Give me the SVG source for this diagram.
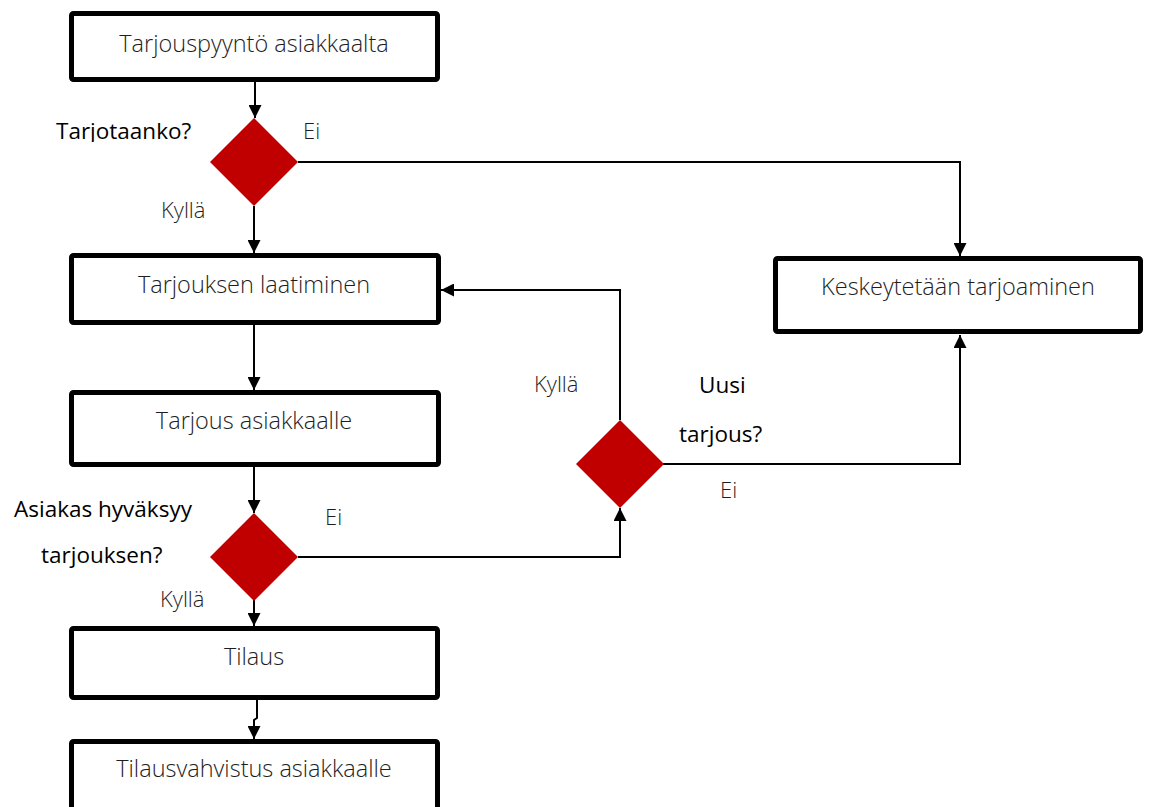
<svg xmlns="http://www.w3.org/2000/svg" width="1151" height="807" viewBox="0 0 1151 807">
  <defs>
    <style>
      .box { fill: #ffffff; stroke: #000000; stroke-width: 5; }
      .dia { fill: #c00000; stroke: none; }
      .conn { fill: none; stroke: #000000; stroke-width: 2; }
      .t { font-family: "Open Sans", "Liberation Sans", sans-serif; font-weight: 300; font-size: 23.5px; fill: #1e1e1e; text-anchor: middle; }
      .lbl { font-family: "Open Sans", "Liberation Sans", sans-serif; font-weight: 300; font-size: 22px; fill: #1e1e1e; }
      .q { font-family: "Open Sans", "Liberation Sans", sans-serif; font-weight: 400; font-size: 22.5px; fill: #000000; }
    </style>
    <marker id="arrow" viewBox="0 0 12 12" refX="12" refY="6" markerWidth="13" markerHeight="13" markerUnits="userSpaceOnUse" orient="auto">
      <path d="M0,0 L12,6 L0,12 Z" fill="#000000"/>
    </marker>
    <clipPath id="clipQ1">
      <rect x="0" y="112" width="240" height="30"/>
    </clipPath>
  </defs>

  <!-- connectors -->
  <g id="connectors">
    <path class="conn" d="M255,82 V118" marker-end="url(#arrow)"/>
    <path class="conn" d="M254,206 V253" marker-end="url(#arrow)"/>
    <path class="conn" d="M298,162 H960 V256" marker-end="url(#arrow)"/>
    <path class="conn" d="M254,325 V390" marker-end="url(#arrow)"/>
    <path class="conn" d="M254,467 V513" marker-end="url(#arrow)"/>
    <path class="conn" d="M298,557 H620 V508" marker-end="url(#arrow)"/>
    <path class="conn" d="M620,420 V290 H441" marker-end="url(#arrow)"/>
    <path class="conn" d="M663,464 H960 V335" marker-end="url(#arrow)"/>
    <path class="conn" d="M254,600 V626" marker-end="url(#arrow)"/>
    <path class="conn" d="M257,700 V718 L254,720 V739" marker-end="url(#arrow)"/>
  </g>

  <!-- process boxes -->
  <g id="n-tarjouspyynto">
    <rect class="box" x="71.5" y="13.5" width="366" height="66" rx="2"/>
    <text class="t" x="254" y="52">Tarjouspyyntö asiakkaalta</text>
  </g>
  <g id="n-laatiminen">
    <rect class="box" x="71.5" y="255.5" width="367" height="67" rx="2"/>
    <text class="t" x="254" y="293">Tarjouksen laatiminen</text>
  </g>
  <g id="n-tarjous">
    <rect class="box" x="71.5" y="392.5" width="367" height="72" rx="2"/>
    <text class="t" x="254" y="429">Tarjous asiakkaalle</text>
  </g>
  <g id="n-keskeytetaan">
    <rect class="box" x="775.5" y="258.5" width="365" height="73" rx="2"/>
    <text class="t" x="958" y="295">Keskeytetään tarjoaminen</text>
  </g>
  <g id="n-tilaus">
    <rect class="box" x="71.5" y="628.5" width="366" height="69" rx="2"/>
    <text class="t" x="254" y="665">Tilaus</text>
  </g>
  <g id="n-tilausvahvistus">
    <rect class="box" x="71.5" y="741.5" width="366" height="80" rx="2"/>
    <text class="t" x="254" y="777">Tilausvahvistus asiakkaalle</text>
  </g>

  <!-- decisions -->
  <g id="d-tarjotaanko">
    <polygon class="dia" points="254,118 298,162 254,206 210,162"/>
    <text class="q" x="56" y="139" clip-path="url(#clipQ1)">Tarjotaanko?</text>
    <text class="lbl" x="303" y="139">Ei</text>
    <text class="lbl" x="161" y="218">Kyllä</text>
  </g>
  <g id="d-hyvaksyy">
    <polygon class="dia" points="254,513 298,557 254,601 210,557"/>
    <text class="q" x="14" y="517">Asiakas hyväksyy</text>
    <text class="q" x="41" y="563">tarjouksen?</text>
    <text class="lbl" x="325" y="525">Ei</text>
    <text class="lbl" x="160" y="607">Kyllä</text>
  </g>
  <g id="d-uusi">
    <polygon class="dia" points="620,420 664,464 620,508 576,464"/>
    <text class="q" x="699" y="393">Uusi</text>
    <text class="q" x="679" y="442">tarjous?</text>
    <text class="lbl" x="534" y="392">Kyllä</text>
    <text class="lbl" x="720" y="498">Ei</text>
  </g>
</svg>
